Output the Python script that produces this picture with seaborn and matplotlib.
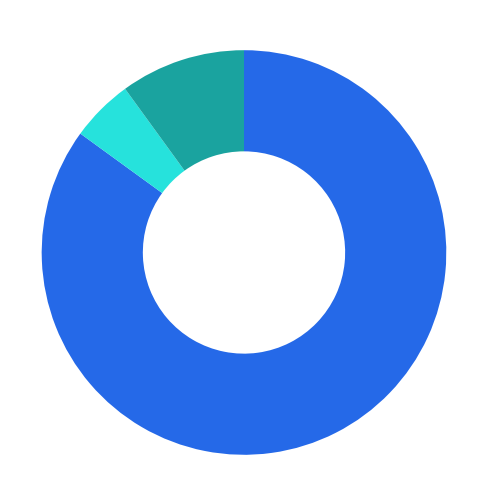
import seaborn as sns
import matplotlib
matplotlib.use("Agg")
import matplotlib.pyplot as plt

labels = ["A", "B", "C"]
values = [85, 5, 10]
colors = ["#2569E8", "#26E2DC", "#1AA39F"]

sns.set_theme(style="white")
palette = sns.color_palette(colors)

fig = plt.figure(figsize=(4.88, 4.87), dpi=100)
# pie centre ~ (244, 252) px, radius ~202 px
ax = fig.add_axes([41.7 / 488, 32.2 / 487, 404.6 / 488, 404.6 / 487])
ax.pie(values, colors=palette, startangle=90, counterclock=False,
       radius=1, wedgeprops=dict(width=0.5, linewidth=0, antialiased=True))
ax.set_xlim(-1, 1)
ax.set_ylim(-1, 1)
ax.set_aspect("equal")
ax.axis("off")

fig.savefig("out.png", dpi=100, facecolor="white")
